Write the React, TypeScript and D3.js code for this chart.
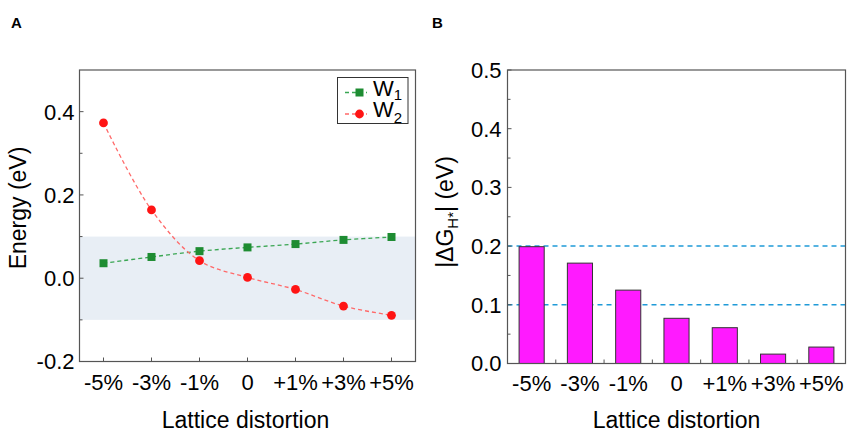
import * as d3 from "d3"
import React from "react"

// data
const distortions = ["-5%", "-3%", "-1%", "0", "+1%", "+3%", "+5%"]
const w1Energy = [0.036, 0.051, 0.065, 0.074, 0.082, 0.092, 0.099]
const w2Energy = [0.373, 0.164, 0.042, 0.002, -0.027, -0.067, -0.089]
const deltaG = [0.199, 0.171, 0.125, 0.077, 0.061, 0.016, 0.028]

const energyTicks = [-0.2, 0.0, 0.2, 0.4]
const energyMinor = [-0.1, 0.1, 0.3]
const dgTicks = [0.0, 0.1, 0.2, 0.3, 0.4, 0.5]
const dgMinor = [0.05, 0.15, 0.25, 0.35, 0.45]
const shadeBand = [-0.1, 0.1]
const refLines = [0.1, 0.2]

const FONT = "'Liberation Sans', Arial, sans-serif"
const FRAME = "#555"
const TICK_FS = 22
const LABEL_FS = 23

// panel A geometry
const A = { left: 79.5, right: 415.5, top: 70, bottom: 361.5 }
// panel B geometry
const B = { left: 507.5, right: 845.5, top: 70, bottom: 363.5 }

function PanelA() {
  const x = d3.scalePoint<string>().domain(distortions).range([A.left, A.right]).padding(0.5)
  const y = d3.scaleLinear().domain([-0.2, 0.5]).range([A.bottom, A.top])

  const line = d3.line<number>()
    .x((_, i) => x(distortions[i]) as number)
    .y(d => y(d))
    .curve(d3.curveCatmullRom)

  const green = "#1e8c32"
  const greenLine = "#3aa653"
  const red = "#ff1414"
  const redLine = "#ff6a6a"

  return (
    <g>
      <text x={11} y={28} fontSize={15} fontWeight="bold" fontFamily={FONT}>A</text>
      <rect x={A.left} y={y(shadeBand[1])} width={A.right - A.left}
        height={y(shadeBand[0]) - y(shadeBand[1])} fill="#e8eef5" />
      <path d={line(w1Energy) || ""} fill="none" stroke={greenLine} strokeWidth={1.3} strokeDasharray="4,3" />
      <path d={line(w2Energy) || ""} fill="none" stroke={redLine} strokeWidth={1.3} strokeDasharray="4,3" />
      {w1Energy.map((d, i) => (
        <rect key={"s" + i} x={(x(distortions[i]) as number) - 4} y={y(d) - 4} width={8} height={8} fill={green} />
      ))}
      {w2Energy.map((d, i) => (
        <circle key={"c" + i} cx={x(distortions[i]) as number} cy={y(d)} r={4.4} fill={red} />
      ))}
      <rect x={A.left} y={A.top} width={A.right - A.left} height={A.bottom - A.top}
        fill="none" stroke={FRAME} strokeWidth={1.2} />
      {energyTicks.map(t => (
        <g key={"yt" + t}>
          <line x1={A.left} x2={A.left + 4} y1={y(t)} y2={y(t)} stroke={FRAME} />
          <text x={A.left - 5} y={y(t)} dy="0.36em" textAnchor="end" fontSize={TICK_FS} fontFamily={FONT}>{t.toFixed(1)}</text>
        </g>
      ))}
      {energyMinor.map(t => (
        <line key={"ym" + t} x1={A.left} x2={A.left + 3} y1={y(t)} y2={y(t)} stroke={FRAME} />
      ))}
      {distortions.map(c => (
        <g key={"xt" + c}>
          <line x1={x(c) as number} x2={x(c) as number} y1={A.bottom} y2={A.bottom - 4} stroke={FRAME} />
          <text x={x(c) as number} y={390} textAnchor="middle" fontSize={TICK_FS} fontFamily={FONT}>{c}</text>
        </g>
      ))}
      <text x={(A.left + A.right) / 2 - 2} y={427.5} textAnchor="middle" fontSize={LABEL_FS} fontFamily={FONT}>Lattice distortion</text>
      <text transform={`translate(26,208) rotate(-90)`} textAnchor="middle" fontSize={LABEL_FS} fontFamily={FONT}>Energy (eV)</text>
      {/* legend */}
      <rect x={337.5} y={77.5} width={70.5} height={46} fill="white" stroke="#333" strokeWidth={1} />
      <line x1={345} x2={367} y1={92.5} y2={92.5} stroke={greenLine} strokeWidth={1.3} strokeDasharray="4,3" />
      <rect x={355.5} y={88.5} width={8} height={8} fill={green} />
      <text x={373} y={96} fontSize={22} fontFamily={FONT}>W<tspan fontSize={15} dy={4}>1</tspan></text>
      <line x1={345} x2={367} y1={114} y2={114} stroke={redLine} strokeWidth={1.3} strokeDasharray="4,3" />
      <circle cx={359.5} cy={114} r={4.4} fill={red} />
      <text x={373} y={117} fontSize={22} fontFamily={FONT}>W<tspan fontSize={15} dy={6}>2</tspan></text>
    </g>
  )
}

function PanelB() {
  const x = d3.scaleBand<string>().domain(distortions).range([B.left, B.right]).paddingInner(0.48).paddingOuter(0.24)
  const y = d3.scaleLinear().domain([0, 0.5]).range([B.bottom, B.top])
  const step = x.step()
  const bounds = distortions.slice(1).map(c => (x(c) as number) - (step - x.bandwidth()) / 2)

  return (
    <g>
      <text x={432} y={28} fontSize={15} fontWeight="bold" fontFamily={FONT}>B</text>
      {refLines.map(v => (
        <line key={"r" + v} x1={B.left} x2={B.right} y1={y(v)} y2={y(v)} stroke="#1f9ad8" strokeWidth={1.5} strokeDasharray="5,4" />
      ))}
      {deltaG.map((d, i) => (
        <rect key={"b" + i} x={x(distortions[i]) as number} y={y(d)} width={x.bandwidth()} height={y(0) - y(d)}
          fill="#ff1aff" stroke="#333" strokeWidth={1} />
      ))}
      <rect x={B.left} y={B.top} width={B.right - B.left} height={B.bottom - B.top}
        fill="none" stroke={FRAME} strokeWidth={1.2} />
      {dgTicks.map(t => (
        <g key={"yt" + t}>
          <line x1={B.left} x2={B.left + 4} y1={y(t)} y2={y(t)} stroke={FRAME} />
          <text x={B.left - 6} y={y(t)} dy="0.36em" textAnchor="end" fontSize={TICK_FS} fontFamily={FONT}>{t.toFixed(1)}</text>
        </g>
      ))}
      {dgMinor.map(t => (
        <line key={"ym" + t} x1={B.left} x2={B.left + 3} y1={y(t)} y2={y(t)} stroke={FRAME} />
      ))}
      {bounds.map((bx, i) => (
        <line key={"xb" + i} x1={bx} x2={bx} y1={B.bottom} y2={B.bottom - 4} stroke={FRAME} />
      ))}
      {distortions.map(c => (
        <text key={"xl" + c} x={(x(c) as number) + x.bandwidth() / 2} y={390.5} textAnchor="middle" fontSize={TICK_FS} fontFamily={FONT}>{c}</text>
      ))}
      <text x={(B.left + B.right) / 2} y={427.5} textAnchor="middle" fontSize={LABEL_FS} fontFamily={FONT}>Lattice distortion</text>
      <text transform={`translate(453,212) rotate(-90)`} textAnchor="middle" fontSize={LABEL_FS} fontFamily={FONT}>
        |ΔG<tspan fontSize={15} dy={5}>H*</tspan><tspan dy={-5}>| (eV)</tspan>
      </text>
    </g>
  )
}

export default function App() {
  return (
    <svg width={857} height={431} style={{ position: "absolute", left: 0, top: 0, background: "white" }}>
      <rect width={857} height={431} fill="white" />
      <PanelA />
      <PanelB />
    </svg>
  )
}
